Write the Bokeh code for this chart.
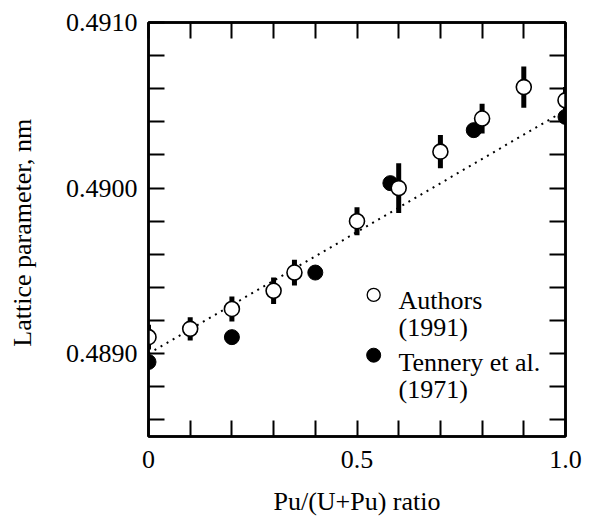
from bokeh.plotting import figure
from bokeh.models import FixedTicker, Range1d, PrintfTickFormatter, CustomJSTickFormatter, Label, LinearAxis, ColumnDataSource
from bokeh.embed import file_html
from bokeh.resources import INLINE

# ---- data ----
auth_x = [0.0, 0.1, 0.2, 0.3, 0.35, 0.5, 0.6, 0.7, 0.8, 0.9, 1.0]
auth_y = [0.48910, 0.48915, 0.48927, 0.48938, 0.48949, 0.48980, 0.49000, 0.49022, 0.49042, 0.49061, 0.49053]
auth_err = [0.000075, 0.00007, 0.000075, 0.00008, 0.000078, 0.000084, 0.00015, 0.0001, 0.00009, 0.000125, 0.00008]

ten_x = [0.0, 0.2, 0.4, 0.58, 0.78, 1.0]
ten_y = [0.48895, 0.48910, 0.48949, 0.49003, 0.49035, 0.49043]

fit_x = [0.0, 1.0]
fit_y = [0.48900, 0.49047]

x_major = [0.0, 0.5, 1.0]
x_minor = [0.1, 0.2, 0.3, 0.4, 0.6, 0.7, 0.8, 0.9]
y_major = [0.4890, 0.4900, 0.4910]
y_minor = [0.4886, 0.4888, 0.4892, 0.4894, 0.4896, 0.4898, 0.4902, 0.4904, 0.4906, 0.4908]

legend_names = ["Authors", "(1991)", "Tennery et al.", "(1971)"]

FONT = "Liberation Serif"

p = figure(width=585, height=518, output_backend="svg", toolbar_location=None,
           x_range=Range1d(0.0, 1.0), y_range=Range1d(0.4885, 0.4910),
           min_border_left=148, min_border_right=20, min_border_top=22, min_border_bottom=78,
           background_fill_color="white", border_fill_color="white")
p.grid.visible = False
p.outline_line_color = "black"
p.outline_line_width = 2.5


def style(ax, show_labels=True):
    ax.axis_line_color = "black"
    ax.axis_line_width = 2.5
    ax.major_tick_in = 16
    ax.major_tick_out = 0
    ax.minor_tick_in = 16
    ax.minor_tick_out = 0
    ax.major_tick_line_color = "black"
    ax.minor_tick_line_color = "black"
    ax.major_tick_line_width = 2
    ax.minor_tick_line_width = 2
    ax.major_label_text_font = FONT
    ax.major_label_text_color = "black"
    ax.major_label_text_font_size = "26px"
    ax.axis_label_text_font = FONT
    ax.axis_label_text_font_style = "normal"
    ax.axis_label_text_color = "black"
    ax.axis_label_text_font_size = "26px"
    if not show_labels:
        ax.formatter = CustomJSTickFormatter(code="return '';")
        ax.major_label_standoff = 0


xt = FixedTicker(ticks=x_major, minor_ticks=x_minor)
yt = FixedTicker(ticks=y_major, minor_ticks=y_minor)
xfmt = CustomJSTickFormatter(code="return tick == 0 ? '0' : tick.toFixed(1);")
yfmt = PrintfTickFormatter(format="%.4f")

xa = p.xaxis[0]
xa.ticker = xt
xa.formatter = xfmt
style(xa)
xa.major_label_standoff = 14
xa.axis_label = "Pu/(U+Pu) ratio"
xa.axis_label_standoff = 16

ya = p.yaxis[0]
ya.ticker = yt
ya.formatter = yfmt
style(ya)
ya.major_label_standoff = 11
ya.axis_label = "Lattice parameter,  nm"
ya.axis_label_standoff = 26

top = LinearAxis(ticker=FixedTicker(ticks=x_major, minor_ticks=x_minor))
style(top, False)
p.add_layout(top, "above")
right = LinearAxis(ticker=FixedTicker(ticks=y_major, minor_ticks=y_minor))
style(right, False)
p.add_layout(right, "right")

# fitted dotted line
p.line(fit_x, fit_y, line_color="black", line_width=2, line_dash="2 5")

# error bars
src = ColumnDataSource(dict(x=auth_x, y=auth_y,
                            lo=[y - e for y, e in zip(auth_y, auth_err)],
                            hi=[y + e for y, e in zip(auth_y, auth_err)]))
p.segment(x0="x", y0="lo", x1="x", y1="hi", source=src, line_color="black", line_width=5)

# Tennery et al. (filled)
p.scatter(ten_x, ten_y, size=15, marker="circle", fill_color="black", line_color="black", line_width=1)
# Authors (open)
p.scatter("x", "y", source=src, size=15, marker="circle", fill_color="white", line_color="black", line_width=1.6)

# legend (manual)
leg_x = 0.54
leg_y = [0.489355, 0.488991]
p.scatter([leg_x], [leg_y[0]], size=13, marker="circle", fill_color="white", line_color="black", line_width=1.3)
p.scatter([leg_x], [leg_y[1]], size=14, marker="circle", fill_color="black", line_color="black")

txt_x = 0.5995
txt_y = [0.489319, 0.489158, 0.488949, 0.488782]
for t, yy in zip(legend_names, txt_y):
    p.add_layout(Label(x=txt_x, y=yy, text=t, text_font=FONT, text_font_size="26px",
                       text_color="black", text_baseline="alphabetic", text_align="left"))

open("out.html", "w").write(file_html(p, INLINE))
